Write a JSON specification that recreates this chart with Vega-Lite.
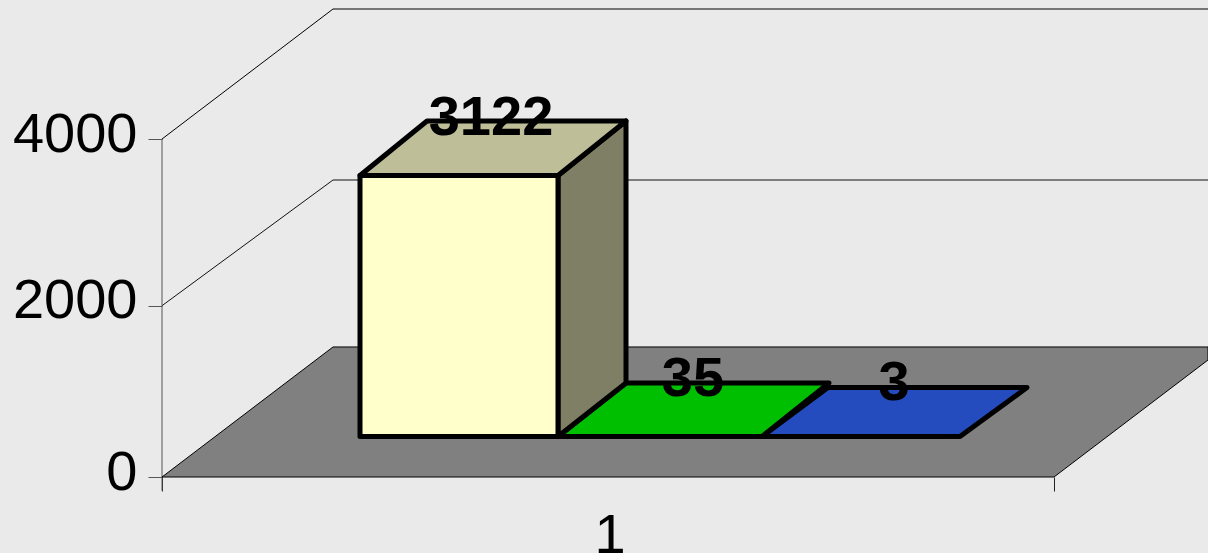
{
  "$schema": "https://vega.github.io/schema/vega-lite/v6.json",
  "width": 1208,
  "height": 553,
  "autosize": "none",
  "padding": 0,
  "background": "#EAEAEA",
  "config": {"view": {"stroke": null}, "font": "Liberation Sans"},
  "datasets": {
    "faces": [
      {"shape": "floor", "i": 0, "x": 162, "y": 0},
      {"shape": "floor", "i": 1, "x": 333, "y": 1518},
      {"shape": "floor", "i": 2, "x": 1208, "y": 1518},
      {"shape": "floor", "i": 3, "x": 1208, "y": 1366},
      {"shape": "floor", "i": 4, "x": 1054, "y": 0},
      {"shape": "blue", "i": 0, "x": 762, "y": 473},
      {"shape": "blue", "i": 1, "x": 828, "y": 1045},
      {"shape": "blue", "i": 2, "x": 1027, "y": 1045},
      {"shape": "blue", "i": 3, "x": 960, "y": 473},
      {"shape": "green", "i": 0, "x": 558, "y": 473},
      {"shape": "green", "i": 1, "x": 626, "y": 1097},
      {"shape": "green", "i": 2, "x": 829, "y": 1097},
      {"shape": "green", "i": 3, "x": 762, "y": 473},
      {"shape": "side", "i": 0, "x": 558, "y": 3562},
      {"shape": "side", "i": 1, "x": 626, "y": 4216},
      {"shape": "side", "i": 2, "x": 626, "y": 1097},
      {"shape": "side", "i": 3, "x": 558, "y": 473},
      {"shape": "top", "i": 0, "x": 360, "y": 3562},
      {"shape": "top", "i": 1, "x": 427, "y": 4216},
      {"shape": "top", "i": 2, "x": 626, "y": 4216},
      {"shape": "top", "i": 3, "x": 558, "y": 3562},
      {"shape": "front", "i": 0, "x": 360, "y": 473},
      {"shape": "front", "i": 1, "x": 360, "y": 3562},
      {"shape": "front", "i": 2, "x": 558, "y": 3562},
      {"shape": "front", "i": 3, "x": 558, "y": 473}
    ],
    "walls": [
      {"line": "g2000", "i": 0, "x": 162, "y": 2000},
      {"line": "g2000", "i": 1, "x": 333, "y": 3508},
      {"line": "g2000", "i": 2, "x": 1208, "y": 3508},
      {"line": "g4000", "i": 0, "x": 162, "y": 4000},
      {"line": "g4000", "i": 1, "x": 333, "y": 5560},
      {"line": "g4000", "i": 2, "x": 1208, "y": 5560},
      {"line": "axis", "i": 0, "x": 162, "y": 4000},
      {"line": "axis", "i": 1, "x": 162, "y": -160}
    ],
    "labels": [
      {"x": 491, "y": 4048, "label": "3122", "kind": "value"},
      {"x": 693, "y": 946, "label": "35", "kind": "value"},
      {"x": 894, "y": 899, "label": "3", "kind": "value"},
      {"x": 610, "y": -886, "label": "1", "kind": "category"}
    ]
  },
  "encoding": {
    "x": {"field": "x", "type": "quantitative", "scale": {"domain": [0, 1208], "nice": false, "zero": false},
      "axis": {"values": [162, 1054], "labels": false, "domain": false, "grid": false, "title": null, "offset": -76, "tickSize": 14, "tickColor": "#222222", "tickWidth": 1}},
    "y": {"field": "y", "type": "quantitative",
      "scale": {"domain": [-887.3, 0, 2000, 4000, 5668], "range": [553, 477, 305.7, 139, 0], "nice": false, "zero": false},
      "axis": {"values": [0, 2000, 4000], "format": "d", "domain": false, "grid": false, "title": null, "offset": -162, "tickSize": 14, "tickColor": "#555555", "tickWidth": 1, "labelFontSize": 56, "labelColor": "#000000", "labelPadding": 11, "labelFont": "Liberation Sans", "labelBaseline": "middle", "labelOffset": -5}}
  },
  "layer": [
    {
      "data": {"name": "walls"},
      "mark": {"type": "line", "strokeWidth": 1, "clip": true},
      "encoding": {
        "stroke": {"field": "line", "type": "nominal", "legend": null, "scale": {"domain": ["g2000", "g4000", "axis"], "range": ["#111111", "#000000", "#555555"]}},
        "order": {"field": "i"}
      }
    },
    {
      "data": {"name": "faces"},
      "transform": [{"filter": "datum.shape === 'floor'"}],
      "mark": {"type": "line", "interpolate": "linear-closed", "fill": "#808080", "stroke": "#000000", "strokeWidth": 1, "clip": true},
      "encoding": {"order": {"field": "i"}}
    },
    {
      "data": {"name": "faces"},
      "transform": [{"filter": "datum.shape !== 'floor'"}],
      "mark": {"type": "line", "interpolate": "linear-closed", "stroke": "#000000", "strokeWidth": 5, "strokeJoin": "round"},
      "encoding": {
        "fill": {"field": "shape", "type": "nominal", "legend": null,
          "scale": {"domain": ["blue", "green", "side", "top", "front"], "range": ["#244CBF", "#00BF00", "#7F7F65", "#BEBE99", "#FFFFCC"]}},
        "order": {"field": "i"}
      }
    },
    {
      "data": {"name": "labels"},
      "transform": [{"filter": "datum.kind === 'value'"}],
      "mark": {"type": "text", "font": "Liberation Sans", "fontWeight": "bold", "fontSize": 56, "align": "center", "baseline": "alphabetic", "color": "#000000"},
      "encoding": {"text": {"field": "label"}}
    },
    {
      "data": {"name": "labels"},
      "transform": [{"filter": "datum.kind === 'category'"}],
      "mark": {"type": "text", "font": "Liberation Sans", "fontSize": 56, "align": "center", "baseline": "alphabetic", "color": "#000000"},
      "encoding": {"text": {"field": "label"}}
    }
  ]
}
